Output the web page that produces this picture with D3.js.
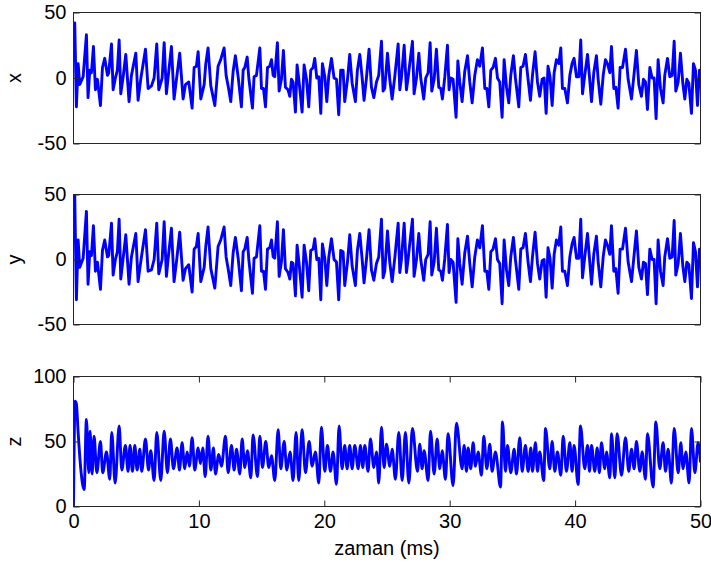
<!DOCTYPE html>
<html>
<head>
<meta charset="utf-8">
<script src="https://cdn.jsdelivr.net/npm/d3@7"></script>
<style>
  body { margin: 0; background: #fff; }
  text { font-family: "Liberation Sans", Arial, sans-serif; }
</style>
</head>
<body>
<svg id="chart" width="711" height="565"></svg>
<script>
// Sample times (ms) shared by the x and y state variables
const timeXY = [
  0, 0.1, 0.23, 0.37, 0.5, 0.77, 1.03, 1.16, 1.3, 1.43,
  1.59, 1.75, 1.91, 2.15, 2.31, 2.49, 2.71, 2.81, 3.03, 3.16,
  3.34, 3.5, 3.64, 3.77, 3.96, 4.17, 4.43, 4.62, 4.97, 5.15,
  5.36, 5.74, 5.95, 6.22, 6.43, 6.64, 6.8, 7.07, 7.23, 7.41,
  7.54, 7.81, 8.02, 8.21, 8.47, 8.74, 8.93, 9.19, 9.46, 9.62,
  9.8, 9.94, 10.15, 10.42, 10.55, 10.73, 10.95, 11.27, 11.53, 11.74,
  12.01, 12.17, 12.33, 12.54, 12.73, 12.91, 13.13, 13.39, 13.53, 13.66,
  13.85, 13.98, 14.27, 14.4, 14.59, 14.86, 14.99, 15.15, 15.31, 15.47,
  15.65, 15.79, 15.92, 16.05, 16.26, 16.4, 16.58, 16.74, 16.9, 17.11,
  17.25, 17.38, 17.51, 17.7, 17.83, 17.99, 18.23, 18.39, 18.58, 18.76,
  18.92, 19.11, 19.24, 19.4, 19.56, 19.72, 19.85, 20.04, 20.2, 20.36,
  20.57, 20.78, 20.97, 21.15, 21.31, 21.5, 21.63, 21.85, 22.03, 22.22,
  22.48, 22.64, 22.83, 23.02, 23.17, 23.36, 23.57, 23.76, 23.95, 24.16,
  24.34, 24.56, 24.69, 24.82, 25.04, 25.22, 25.41, 25.62, 25.89, 26.02,
  26.15, 26.37, 26.55, 26.68, 27.03, 27.16, 27.35, 27.54, 27.69, 27.93,
  28.09, 28.28, 28.44, 28.57, 28.76, 28.94, 29.13, 29.29, 29.42, 29.61,
  29.82, 29.95, 30.09, 30.27, 30.51, 30.65, 30.8, 30.99, 31.2, 31.42,
  31.6, 31.79, 32.0, 32.21, 32.4, 32.61, 32.8, 32.96, 33.12, 33.28,
  33.46, 33.65, 33.81, 33.99, 34.18, 34.34, 34.53, 34.71, 34.87, 35.08,
  35.24, 35.51, 35.67, 35.85, 36.04, 36.25, 36.44, 36.6, 36.81, 37.0,
  37.18, 37.37, 37.53, 37.69, 37.84, 38.0, 38.17, 38.33, 38.51, 38.7,
  38.86, 38.99, 39.18, 39.39, 39.58, 39.76, 39.92, 40.11, 40.3, 40.45,
  40.59, 40.77, 40.99, 41.12, 41.31, 41.49, 41.7, 41.84, 42.05, 42.24,
  42.42, 42.58, 42.77, 42.9, 43.09, 43.25, 43.43, 43.59, 43.78, 44.02,
  44.23, 44.5, 44.68, 44.89, 45.08, 45.29, 45.45, 45.61, 45.77, 45.96,
  46.14, 46.3, 46.46, 46.62, 46.81, 47.02, 47.15, 47.37, 47.55, 47.74,
  47.9, 48.03, 48.22, 48.4, 48.59, 48.75, 48.91, 49.07, 49.28, 49.44,
  49.6, 49.76, 49.92, 50.0
];

const seriesX = [
  38, 42, -22, 11, -5, 1, 33, -15, 6, 4,
  24, -9, -1, -21, 8, 15, 2, 4, 26, -9,
  0, 6, 29, -12, 1, 18, -18, 2, 19, -17,
  -1, 22, -8, -6, 0, 26, -9, 0, 27, -12,
  0, 24, -16, -1, 19, -16, -5, -3, -23, 8,
  9, 20, -16, -5, 11, 23, -6, -21, 9, 14,
  23, 2, -6, -18, 5, 17, 1, -22, 6, 8,
  16, 0, -23, 1, 2, 23, -8, -8, -22, 8,
  9, 14, 2, 1, 27, -10, -1, 21, -7, -9,
  -14, -1, -3, -26, 10, -3, -26, 10, -1, -22,
  6, 8, 15, 0, 1, -27, 11, 1, -18, 2,
  15, 0, -1, -28, 6, 6, -18, -1, 18, -4,
  -18, 6, 18, 0, -17, 0, 22, -7, -15, -3,
  2, 28, -10, -8, 19, -1, -16, 1, 26, -9,
  0, 25, -9, 0, 28, -12, 0, 19, 0, -16,
  0, 4, 27, -10, -1, 22, -7, -8, -16, 1,
  25, -9, 0, -1, -30, 13, -3, -18, 5, 17,
  -3, -19, 2, 14, 9, 23, -8, -8, -22, 6,
  8, 15, 0, -3, -30, 14, -7, -19, 2, 17,
  0, -22, 8, 9, 18, -1, -17, 2, 20, -3,
  -14, -1, 0, -27, 9, 1, -21, 4, 14, 11,
  23, -8, -8, -19, 2, 11, 15, 1, 1, 29,
  -12, 2, 18, 4, -18, 4, 17, -1, -20, 2,
  14, 11, 4, 24, -8, -7, -23, 8, 8, 22,
  -1, -16, 1, 21, -5, -14, -1, -3, -24, 8,
  0, 0, -31, 14, -8, -19, 2, 15, 1, 2,
  28, -10, -3, 19, -4, -16, -1, -4, -27, 11,
  6, -21, 6, 6
];

const seriesY = [
  45, 49, -31, 15, -6, 1, 37, -19, 6, 3,
  26, -9, -2, -23, 7, 15, 2, 3, 28, -12,
  0, 6, 31, -15, 1, 19, -19, 2, 20, -17,
  -2, 23, -9, -8, 0, 28, -11, 0, 29, -13,
  0, 24, -17, -2, 21, -16, -7, -4, -25, 8,
  10, 20, -17, -6, 10, 25, -7, -22, 10, 15,
  25, 2, -7, -20, 5, 17, 1, -24, 6, 8,
  17, 0, -26, 1, 2, 26, -9, -9, -23, 8,
  9, 15, 2, 1, 29, -13, -2, 23, -7, -10,
  -15, -2, -3, -28, 11, -3, -29, 11, -2, -24,
  7, 8, 16, 0, 1, -31, 12, 1, -20, 2,
  16, 0, -2, -31, 7, 6, -20, -2, 19, -5,
  -20, 7, 20, 0, -18, 0, 23, -8, -16, -3,
  2, 31, -14, -9, 22, -2, -17, 1, 28, -10,
  0, 28, -10, 0, 31, -13, 0, 20, 0, -16,
  0, 4, 29, -12, -2, 24, -8, -9, -16, 1,
  27, -10, 0, -2, -33, 16, -3, -19, 5, 18,
  -3, -21, 2, 15, 9, 26, -9, -9, -23, 6,
  8, 16, 0, -3, -34, 15, -8, -20, 2, 17,
  0, -23, 8, 9, 20, -2, -17, 2, 21, -3,
  -15, -1, 0, -29, 9, 1, -22, 4, 15, 11,
  25, -9, -9, -20, 2, 12, 17, 1, 1, 31,
  -14, 2, 20, 4, -19, 4, 18, -2, -21, 2,
  15, 11, 4, 26, -9, -7, -26, 8, 8, 24,
  -2, -17, 1, 22, -6, -15, -2, -3, -27, 8,
  0, 0, -34, 15, -9, -20, 2, 16, 1, 2,
  30, -12, -3, 20, -5, -17, -2, -4, -30, 13,
  6, -21, 8, 8
];

// Sample times (ms) and values of the z state variable
const timeZ = [
  0, 0.13, 0.23, 0.37, 0.58, 0.85, 1.03, 1.22, 1.32, 1.48,
  1.64, 1.86, 2.15, 2.33, 2.63, 2.89, 3.05, 3.32, 3.64, 3.85,
  4.14, 4.35, 4.51, 4.7, 4.89, 5.07, 5.29, 5.44, 5.74, 5.98,
  6.16, 6.43, 6.64, 6.96, 7.23, 7.49, 7.73, 7.97, 8.26, 8.45,
  8.66, 8.87, 9.06, 9.25, 9.46, 9.67, 9.94, 10.12, 10.31, 10.5,
  10.73, 10.95, 11.16, 11.32, 11.58, 11.8, 12.12, 12.33, 12.6, 12.81,
  13.0, 13.26, 13.45, 13.66, 13.87, 14.14, 14.32, 14.67, 14.86, 15.07,
  15.33, 15.57, 15.79, 16.05, 16.32, 16.53, 16.8, 17.01, 17.27, 17.51,
  17.75, 17.96, 18.23, 18.5, 18.79, 19.03, 19.29, 19.56, 19.77, 20.04,
  20.25, 20.49, 20.7, 20.97, 21.18, 21.42, 21.63, 21.82, 22.03, 22.22,
  22.43, 22.7, 22.88, 23.07, 23.23, 23.49, 23.68, 23.95, 24.16, 24.34,
  24.56, 24.77, 24.96, 25.22, 25.41, 25.67, 25.94, 26.21, 26.47, 26.74,
  27.03, 27.43, 27.61, 27.8, 27.96, 28.28, 28.47, 28.76, 29.0, 29.21,
  29.4, 29.66, 29.87, 30.27, 30.54, 30.99, 31.15, 31.34, 31.47, 31.68,
  31.87, 32.05, 32.27, 32.53, 32.72, 32.96, 33.2, 33.38, 33.65, 34.05,
  34.21, 34.45, 34.61, 34.87, 35.14, 35.32, 35.59, 35.78, 36.04, 36.25,
  36.47, 36.6, 36.84, 37.0, 37.18, 37.5, 37.64, 37.98, 38.17, 38.38,
  38.59, 38.86, 39.05, 39.31, 39.58, 39.76, 39.92, 40.24, 40.43, 40.77,
  40.99, 41.15, 41.31, 41.57, 41.76, 41.94, 42.1, 42.37, 42.5, 42.77,
  42.9, 43.17, 43.35, 43.7, 44.02, 44.28, 44.5, 44.71, 44.89, 45.16,
  45.35, 45.61, 45.77, 46.22, 46.44, 46.75, 47.02, 47.21, 47.42, 47.68,
  47.9, 48.22, 48.43, 48.61, 48.83, 49.09, 49.28, 49.55, 49.81, 50.0
];

const seriesZ = [
  0, 81, 79, 57, 29, 13, 67, 26, 58, 25,
  54, 26, 50, 26, 42, 21, 57, 18, 62, 28,
  47, 27, 47, 27, 47, 28, 44, 27, 52, 28,
  43, 20, 57, 20, 58, 26, 52, 29, 45, 28,
  49, 29, 42, 31, 53, 28, 45, 33, 45, 23,
  54, 28, 45, 25, 40, 31, 54, 26, 47, 28,
  44, 25, 52, 30, 43, 22, 55, 23, 54, 30,
  50, 30, 39, 20, 59, 29, 50, 28, 42, 20,
  57, 20, 59, 26, 50, 31, 42, 18, 61, 27,
  47, 27, 42, 17, 62, 29, 47, 29, 47, 29,
  47, 29, 47, 30, 47, 27, 52, 30, 42, 18,
  61, 30, 48, 31, 44, 21, 57, 20, 57, 18,
  60, 27, 48, 29, 43, 20, 58, 25, 52, 29,
  43, 21, 56, 16, 64, 29, 47, 27, 45, 29,
  49, 31, 42, 24, 54, 29, 48, 27, 42, 15,
  65, 27, 47, 26, 44, 25, 53, 27, 47, 27,
  45, 27, 49, 27, 42, 20, 60, 29, 50, 27,
  42, 24, 54, 27, 49, 27, 47, 17, 62, 29,
  47, 27, 47, 27, 45, 26, 49, 29, 42, 22,
  56, 22, 56, 24, 53, 27, 44, 29, 50, 27,
  42, 21, 56, 15, 65, 29, 49, 27, 44, 18,
  60, 26, 49, 29, 42, 18, 60, 26, 49, 34
];

const timeTicks = [0, 10, 20, 30, 40, 50];
const xyTicks = [-50, 0, 50];
const zTicks = [0, 50, 100];

const svg = d3.select("#chart");
const W = 711, H = 565;
svg.append("rect").attr("width", W).attr("height", H).attr("fill", "#fff");

const plotLeft = 73.5, plotRight = 700.5;
const xScale = d3.scaleLinear().domain([0, 50]).range([plotLeft, plotRight]);

const panels = [
  { name: "x", t: timeXY, v: seriesX, domain: [-50, 50], ticks: xyTicks, top: 12.5, bottom: 143.5, timeLabels: false, curve: d3.curveLinear },
  { name: "y", t: timeXY, v: seriesY, domain: [-50, 50], ticks: xyTicks, top: 194.5, bottom: 324.5, timeLabels: false, curve: d3.curveLinear },
  { name: "z", t: timeZ,  v: seriesZ, domain: [0, 100],  ticks: zTicks,  top: 376.5, bottom: 506.5, timeLabels: true, curve: d3.curveMonotoneX }
];

const axisColor = "#262626";
const fontSize = 20;
const plainNumber = d => String(d);   // hyphen-minus, as in the printed labels

panels.forEach((p, i) => {
  const yScale = d3.scaleLinear().domain(p.domain).range([p.bottom, p.top]);
  const g = svg.append("g");
  const n = Math.min(p.t.length, p.v.length);
  const pts = d3.range(n).map(k => [p.t[k], p.v[k]]);

  const clipId = "clip" + i;
  svg.append("clipPath").attr("id", clipId)
    .append("rect")
    .attr("x", plotLeft).attr("y", p.top)
    .attr("width", plotRight - plotLeft).attr("height", p.bottom - p.top);

  const line = d3.line()
    .curve(p.curve)
    .x(d => xScale(d[0]))
    .y(d => yScale(d[1]));

  g.append("path")
    .datum(pts)
    .attr("clip-path", `url(#${clipId})`)
    .attr("fill", "none")
    .attr("stroke", "#0000ff")
    .attr("stroke-width", 2.9)
    .attr("stroke-linejoin", "round")
    .attr("d", line);

  // Inward ticks on all four sides
  const axL = d3.axisLeft(yScale).tickValues(p.ticks).tickSizeInner(-6).tickSizeOuter(0)
    .tickPadding(7).tickFormat(plainNumber);
  const axR = d3.axisRight(yScale).tickValues(p.ticks).tickSizeInner(-6).tickSizeOuter(0).tickFormat("");
  const axB = d3.axisBottom(xScale).tickValues(timeTicks).tickSizeInner(-6).tickSizeOuter(0).tickPadding(7)
    .tickFormat(plainNumber);
  const axT = d3.axisTop(xScale).tickValues(timeTicks).tickSizeInner(-6).tickSizeOuter(0).tickFormat("");

  const style = sel => {
    sel.select(".domain").remove();
    sel.selectAll("line").attr("stroke", axisColor);
    sel.selectAll("text").attr("fill", "#000").style("font-size", fontSize + "px")
      .style("font-family", '"Liberation Sans", Arial, sans-serif');
  };
  g.append("g").attr("transform", `translate(${plotLeft},0)`).call(axL).call(style);
  g.append("g").attr("transform", `translate(${plotRight},0)`).call(axR).call(style);
  if (p.timeLabels) {
    g.append("g").attr("transform", `translate(0,${p.bottom})`).call(axB).call(style);
    g.append("g").attr("transform", `translate(0,${p.top})`).call(axT).call(style);
  }

  g.append("rect")
    .attr("x", plotLeft).attr("y", p.top)
    .attr("width", plotRight - plotLeft).attr("height", p.bottom - p.top)
    .attr("fill", "none").attr("stroke", axisColor).attr("stroke-width", 1);

  g.append("text")
    .attr("transform", `translate(21,${(p.top + p.bottom) / 2}) rotate(-90)`)
    .attr("text-anchor", "middle")
    .style("font-size", fontSize + "px")
    .text(p.name);
});

svg.append("text")
  .attr("x", (plotLeft + plotRight) / 2)
  .attr("y", 555)
  .attr("text-anchor", "middle")
  .style("font-size", fontSize + "px")
  .text("zaman (ms)");
</script>
</body>
</html>
